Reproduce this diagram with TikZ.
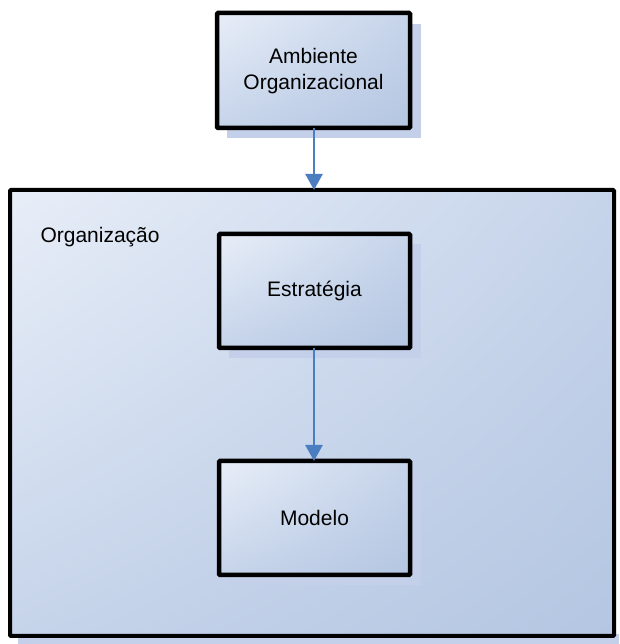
\documentclass[tikz,border=0pt]{standalone}
\usepackage{fontspec}
\setmainfont{Liberation Sans}
\usetikzlibrary{arrows.meta,shadings}
\definecolor{boxlight}{RGB}{232,238,248}
\definecolor{boxmid}{RGB}{198,212,234}
\definecolor{boxdark}{RGB}{180,198,226}
\definecolor{shadowblue}{RGB}{196,208,234}
\definecolor{arrowblue}{RGB}{74,126,193}
\tikzset{
  x=1pt, y=1pt,
  boxshade/.style={upper left=boxlight, upper right=boxmid, lower left=boxmid, lower right=boxdark},
  boxframe/.style={draw=black, line width=4.5pt, rounded corners=1pt},
  shadowfill/.style={fill=shadowblue},
  flow/.style={draw=arrowblue, line width=2.5pt, -{Triangle[length=16pt,width=17pt]}},
  boxtext/.style={font=\fontsize{21}{25.5}\selectfont, align=center, text=black}
}
\begin{document}
\begin{tikzpicture}
\useasboundingbox (0,0) rectangle (619,644);
\fill[white] (0,0) rectangle (619,644);

% outer organisation frame
\fill[shadowfill] (18,0) rectangle (619,10);
\shade[boxshade] (10,8) rectangle (614,454);
\draw[boxframe, line width=4pt] (10,8) rectangle (614,454);
\node[boxtext, anchor=west] (org) at (37,407) {Organização};

% environment box
\fill[shadowfill] (227,506) rectangle (421,620);
\shade[boxshade] (217,516) rectangle (410,631);
\draw[boxframe] (217,516) rectangle (410,631);
\node[boxtext] (amb) at (313.5,573) {Ambiente\\Organizacional};
\coordinate (ambS) at (314,516);
\coordinate (orgN) at (314,454);

% strategy box
\fill[shadowfill] (229,286) rectangle (421,400);
\shade[boxshade] (219,296) rectangle (410,410);
\draw[boxframe] (219,296) rectangle (410,410);
\node[boxtext] (est) at (314.5,353) {Estratégia};

% model box
\fill[shadowfill] (229,59) rectangle (421,173);
\shade[boxshade] (219,69) rectangle (410,183);
\draw[boxframe] (219,69) rectangle (410,183);
\node[boxtext] (mod) at (314.5,126) {Modelo};
\coordinate (estS) at (314,296);
\coordinate (modN) at (314,183);

% connectors
\draw[flow] (ambS) -- (orgN);
\draw[flow] (estS) -- (modN);
\end{tikzpicture}
\end{document}
